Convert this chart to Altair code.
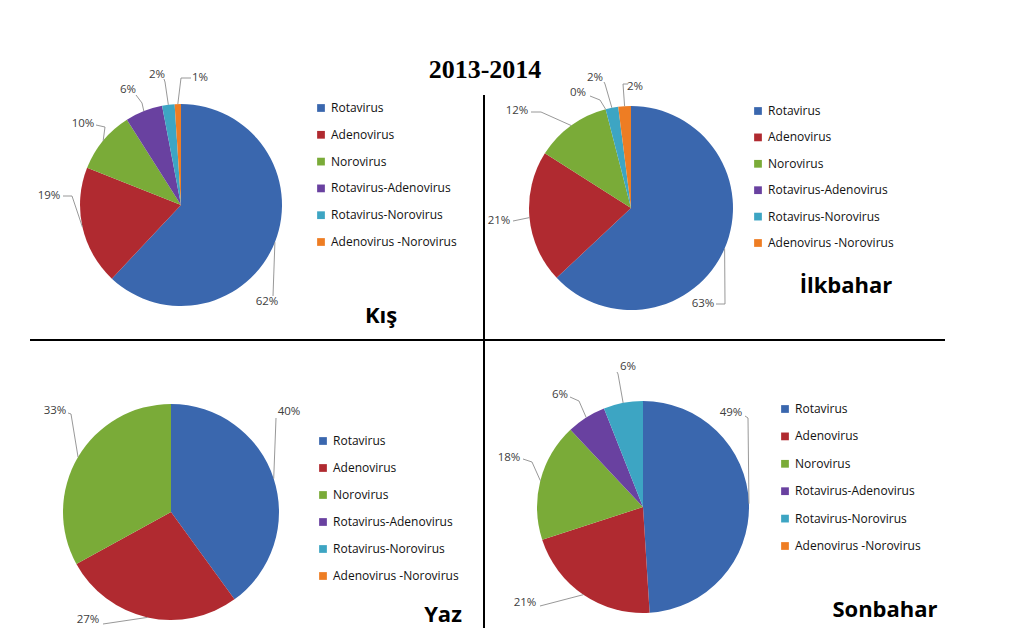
import altair as alt
import pandas as pd

# ---------------- data ----------------
CATEGORIES = ["Rotavirus", "Adenovirus", "Norovirus", "Rotavirus-Adenovirus",
              "Rotavirus-Norovirus", "Adenovirus -Norovirus"]
COLORS = ["#3A67AE", "#B02A30", "#7AAB38", "#6941A0", "#3DA5C3", "#EE7D23"]
SEASONS = ["Kış", "İlkbahar", "Yaz", "Sonbahar"]
KIS_VALUES = [62, 19, 10, 6, 2, 1]
ILKBAHAR_VALUES = [63, 21, 12, 0, 2, 2]
YAZ_VALUES = [40, 27, 33, 0, 0, 0]
SONBAHAR_VALUES = [49, 21, 18, 6, 6, 0]
TITLE = "2013-2014"

VALUES = {"Kış": KIS_VALUES, "İlkbahar": ILKBAHAR_VALUES,
          "Yaz": YAZ_VALUES, "Sonbahar": SONBAHAR_VALUES}

# ---------------- layout (page pixels) ----------------
OFF = 8
W, H = 1000, 620
PANEL_LAYOUT = {
    "Kış":      dict(cx=181, cy=205, r=101, legend=(315, 102), row=14.8, name=(381, 323)),
    "İlkbahar": dict(cx=631, cy=208, r=102, legend=(752, 105), row=14.4, name=(846, 293)),
    "Yaz":      dict(cx=171, cy=512, r=108, legend=(317, 435), row=15.0, name=(443, 622)),
    "Sonbahar": dict(cx=643, cy=507, r=106, legend=(779, 403), row=15.4, name=(885, 617)),
}
# per slice: text centre x,y ; leader start x,y ; leader knee x,y (None = no label)
LABEL_LAYOUT = {
    "Kış": [(267, 302, 273, 296, 273, 296), (49, 196, 63, 196, 72, 196),
            (83, 124, 96, 125, 105, 127), (128, 90, 136, 95, 142, 103),
            (157, 75, 164, 79, 165, 82), (200, 78, 191, 78, 181, 78)],
    "İlkbahar": [(703, 304, 716, 304, 725, 304), (499, 221, 513, 221, 513, 221),
                 (517, 111, 531, 112, 541, 112), (578, 93, 590, 96, 600, 100),
                 (595, 78, 604, 82, 605, 84), (635, 87, 628, 84, 623, 84)],
    "Yaz": [(289, 412, 276, 418, 276, 418), (88, 620, 103, 624, 103, 624),
            (55, 411, 68, 413, 71, 414), None, None, None],
    "Sonbahar": [(731, 413, 745, 416, 748, 418), (525, 603, 540, 606, 540, 606),
                 (509, 458, 523, 459, 532, 462), (560, 395, 570, 397, 579, 401),
                 (628, 367, 617, 372, 618, 374), None],
}
# divider cross as thin boxes: (left, top, right, bottom)
DIVIDERS = [(483, 95, 485, 643), (30, 339, 945, 341)]

LABEL_FONT = "Open Sans"
LINE_GRAY = "#8c8c8c"


def panel(season):
    L = PANEL_LAYOUT[season]
    cx, cy, r = L["cx"] - OFF, L["cy"] - OFF, L["r"]
    lay = LABEL_LAYOUT[season]
    cols = ["tx", "ty", "sx", "sy", "kx", "ky"]
    df = pd.DataFrame({"cat": CATEGORIES, "idx": list(range(len(CATEGORIES))),
                       "value": VALUES[season]})
    for j, c in enumerate(cols):
        df[c] = [None if t is None else t[j] - OFF for t in lay]

    pie = alt.Chart(df).mark_arc(radius=r).encode(
        theta=alt.Theta("value:Q", stack=True),
        order=alt.Order("idx:Q"),
        color=alt.Color(
            "cat:N",
            scale=alt.Scale(domain=CATEGORIES, range=COLORS),
            legend=alt.Legend(
                orient="none", direction="vertical",
                legendX=L["legend"][0] - OFF, legendY=L["legend"][1] - OFF,
                title=None, symbolType="square", symbolSize=60,
                symbolStrokeWidth=0, labelFont=LABEL_FONT, labelFontSize=12,
                labelColor="#111111", rowPadding=L["row"], labelOffset=4,
                padding=0),
        ),
        x=alt.value(cx), y=alt.value(cy),
    )

    base = alt.Chart(df).transform_joinaggregate(
        total="sum(value)"
    ).transform_window(
        cum="sum(value)", sort=[alt.SortField("idx")], frame=[None, 0]
    ).transform_filter(
        "isValid(datum.tx)"
    ).transform_calculate(
        mid="(datum.cum - datum.value / 2) / datum.total * 2 * PI",
        ex=f"{cx} + {r} * sin(datum.mid)",
        ey=f"{cy} - {r} * cos(datum.mid)",
        txt="datum.value + '%'",
    )

    seg1 = base.mark_rule(color=LINE_GRAY, strokeWidth=0.9).encode(
        x=alt.X("sx:Q", scale=None, axis=None),
        y=alt.Y("sy:Q", scale=None, axis=None),
        x2="kx:Q", y2="ky:Q",
    )
    seg2 = base.mark_rule(color=LINE_GRAY, strokeWidth=0.9).encode(
        x=alt.X("kx:Q", scale=None, axis=None),
        y=alt.Y("ky:Q", scale=None, axis=None),
        x2="ex:Q", y2="ey:Q",
    )
    text = base.mark_text(font=LABEL_FONT, fontSize=11.5, color="#404040",
                          align="center", baseline="middle").encode(
        x=alt.X("tx:Q", scale=None, axis=None),
        y=alt.Y("ty:Q", scale=None, axis=None),
        text="txt:N",
    )
    name = alt.Chart(pd.DataFrame({"name": [season]})).mark_text(
        font=LABEL_FONT, fontWeight="bold", fontSize=22, color="#000000",
        align="center", baseline="alphabetic",
    ).encode(
        x=alt.value(L["name"][0] - OFF), y=alt.value(L["name"][1] - OFF),
        text="name:N",
    )
    return [pie, seg1, seg2, text, name]


layers = []
for s in SEASONS:
    layers += panel(s)

div_df = pd.DataFrame({
    "l": [d[0] - OFF for d in DIVIDERS], "t": [d[1] - OFF for d in DIVIDERS],
    "r": [d[2] - OFF for d in DIVIDERS], "b": [d[3] - OFF for d in DIVIDERS],
})
dividers = alt.Chart(div_df).mark_rect(color="#000000").encode(
    x=alt.X("l:Q", scale=None, axis=None), y=alt.Y("t:Q", scale=None, axis=None),
    x2="r:Q", y2="b:Q",
)
title = alt.Chart(pd.DataFrame({"t": [TITLE]})).mark_text(
    font="Liberation Serif", fontWeight="bold", fontSize=26, color="#000000",
    align="center", baseline="alphabetic",
).encode(x=alt.value(485 - OFF), y=alt.value(78 - OFF), text="t:N")

chart = alt.layer(dividers, title, *layers).resolve_scale(
    color="independent"
).properties(
    width=W, height=H, padding=0,
    autosize=alt.AutoSizeParams(type="none"),
).configure_view(stroke=None)

chart.save("out.html", embed_options={"renderer": "svg", "actions": False})
